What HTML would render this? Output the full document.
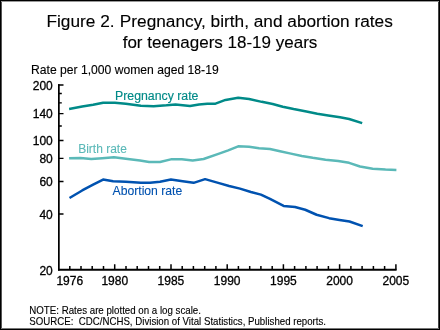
<!DOCTYPE html>
<html><head><meta charset="utf-8"><style>
html,body{margin:0;padding:0;background:#fff;}
body{width:440px;height:330px;overflow:hidden;position:relative;}
svg{position:absolute;left:0;top:0;will-change:transform;}
text{font-family:"Liberation Sans",sans-serif;fill:currentColor;color:#000;stroke:currentColor;stroke-width:0.3px;}
.ti{font-size:17.25px;stroke-width:0.12px;}
.tk{font-size:12px;}
.nt{font-size:10.2px;stroke-width:0.12px;}
</style></head><body>
<svg width="440" height="330" viewBox="0 0 440 330">
<rect x="0" y="0" width="440" height="330" fill="#fff"/>
<text x="46.5" y="27.2" class="ti">Figure 2.</text><text x="392.8" y="27.2" text-anchor="end" class="ti">Pregnancy, birth, and abortion rates</text>
<text x="220" y="48" text-anchor="middle" class="ti" style="font-size:17px">for teenagers 18-19 years</text>
<text x="31" y="74.2" class="tk" style="font-size:12.15px;stroke-width:0.12px">Rate per 1,000 women aged 18-19</text>
<path d="M58.85,84.2 V270.6" stroke="#000" stroke-width="1.75" fill="none"/>
<path d="M58,269.7 H396.6" stroke="#000" stroke-width="2" fill="none"/>
<path d="M58,213.96 H63.5 M58,181.47 H63.5 M58,158.42 H63.5 M58,140.54 H63.5 M58,125.93 H61.8 M58,113.58 H63.5 M58,102.88 H61.8 M58,93.44 H61.8 M58,85.00 H63.5 " stroke="#000" stroke-width="1.4" fill="none"/>
<path d="M69.8,269.7 V266 M81.0,269.7 V266 M92.2,269.7 V266 M103.5,269.7 V266 M114.7,269.7 V264.2 M126.0,269.7 V266 M137.2,269.7 V266 M148.5,269.7 V266 M159.7,269.7 V266 M171.0,269.7 V264.2 M182.2,269.7 V266 M193.4,269.7 V266 M204.7,269.7 V266 M215.9,269.7 V266 M227.2,269.7 V264.2 M238.4,269.7 V266 M249.7,269.7 V266 M260.9,269.7 V266 M272.2,269.7 V266 M283.4,269.7 V264.2 M294.6,269.7 V266 M305.9,269.7 V266 M317.1,269.7 V266 M328.4,269.7 V266 M339.6,269.7 V264.2 M350.9,269.7 V266 M362.1,269.7 V266 M373.4,269.7 V266 M384.6,269.7 V266 M395.9,269.7 V264.2 " stroke="#000" stroke-width="1.5" fill="none"/>
<text x="52.8" y="89.6" text-anchor="end" class="tk">200</text>
<text x="52.8" y="118.2" text-anchor="end" class="tk">140</text>
<text x="52.8" y="145.1" text-anchor="end" class="tk">100</text>
<text x="52.8" y="163.0" text-anchor="end" class="tk">80</text>
<text x="52.8" y="186.1" text-anchor="end" class="tk">60</text>
<text x="52.8" y="218.6" text-anchor="end" class="tk">40</text>
<text x="52.8" y="274.8" text-anchor="end" class="tk">20</text>
<text x="69.75" y="284.6" text-anchor="middle" class="tk">1976</text>
<text x="114.73" y="284.6" text-anchor="middle" class="tk">1980</text>
<text x="170.95" y="284.6" text-anchor="middle" class="tk">1985</text>
<text x="227.18" y="284.6" text-anchor="middle" class="tk">1990</text>
<text x="283.40" y="284.6" text-anchor="middle" class="tk">1995</text>
<text x="339.63" y="284.6" text-anchor="middle" class="tk">2000</text>
<text x="395.85" y="284.6" text-anchor="middle" class="tk">2005</text>
<path d="M69.10,108.95 L82.20,106.45 L93.10,104.65 L103.10,102.65 L114.90,102.65 L125.80,103.75 L140.90,105.75 L153.60,106.25 L166.40,105.35 L175.50,104.45 L190.00,106.05 L199.00,104.45 L207.30,103.65 L215.50,103.65 L225.50,99.95 L238.20,97.85 L249.10,99.05 L261.80,101.85 L272.70,103.95 L282.70,106.75 L293.60,109.05 L306.40,111.45 L317.30,113.65 L328.20,115.45 L340.00,117.35 L349.10,118.95 L362.20,123.15" stroke="#008A88" stroke-width="2.5" fill="none" stroke-linejoin="round" stroke-linecap="butt"/>
<path d="M69.10,158.25 L80.40,158.05 L91.30,158.95 L102.20,158.25 L114.00,157.35 L125.80,158.65 L140.00,160.45 L149.10,161.95 L160.00,161.95 L171.80,159.15 L181.80,159.15 L192.70,160.45 L203.60,158.95 L219.10,153.65 L228.20,150.35 L238.20,146.35 L249.10,146.75 L259.10,148.15 L270.00,149.05 L280.00,151.25 L290.90,153.65 L301.80,155.95 L312.70,157.85 L325.50,159.65 L338.20,160.95 L349.10,162.85 L360.00,166.45 L372.70,168.65 L385.50,169.55 L396.40,169.95" stroke="#5BB9B8" stroke-width="2.5" fill="none" stroke-linejoin="round" stroke-linecap="butt"/>
<path d="M69.50,198.05 L82.20,190.45 L93.10,184.65 L103.10,179.55 L113.10,181.35 L125.80,181.75 L140.90,182.85 L150.00,182.85 L160.00,181.75 L170.90,179.55 L182.70,181.35 L193.60,182.85 L205.10,179.15 L218.20,182.85 L229.10,185.95 L240.00,188.65 L250.90,191.95 L260.90,194.65 L270.00,198.95 L283.60,205.95 L295.00,207.05 L305.20,209.75 L316.60,214.75 L329.10,218.15 L339.50,219.95 L349.50,221.55 L362.70,226.15" stroke="#0052B0" stroke-width="2.5" fill="none" stroke-linejoin="round" stroke-linecap="butt"/>
<text x="115" y="99.7" class="tk" style="color:#008A88;font-size:12.3px;stroke-width:0.15px">Pregnancy rate</text>
<text x="78.2" y="153.1" class="tk" style="color:#5BB9B8;stroke-width:0.1px">Birth rate</text>
<text x="112.5" y="194.9" class="tk" style="color:#0052B0;stroke-width:0.1px;font-size:12.2px">Abortion rate</text>
<text transform="translate(29.3,313.8) scale(0.953,1)" class="nt">NOTE: Rates are plotted on a log scale.</text>
<text transform="translate(29.3,324.5) scale(0.95,1)" class="nt" xml:space="preserve">SOURCE:  CDC/NCHS, Division of Vital Statistics, Published reports.</text>
<rect x="1" y="0" width="1" height="330" fill="#555"/><rect x="438" y="0" width="1" height="330" fill="#444"/>
<rect x="0" y="1" width="440" height="1" fill="#999"/><rect x="0" y="328" width="440" height="1" fill="#777"/>
<rect x="0" y="0" width="1" height="330" fill="#000"/><rect x="439" y="0" width="1" height="330" fill="#000"/>
<rect x="0" y="0" width="440" height="1" fill="#000"/><rect x="0" y="329" width="440" height="1" fill="#000"/>
</svg>
</body></html>
